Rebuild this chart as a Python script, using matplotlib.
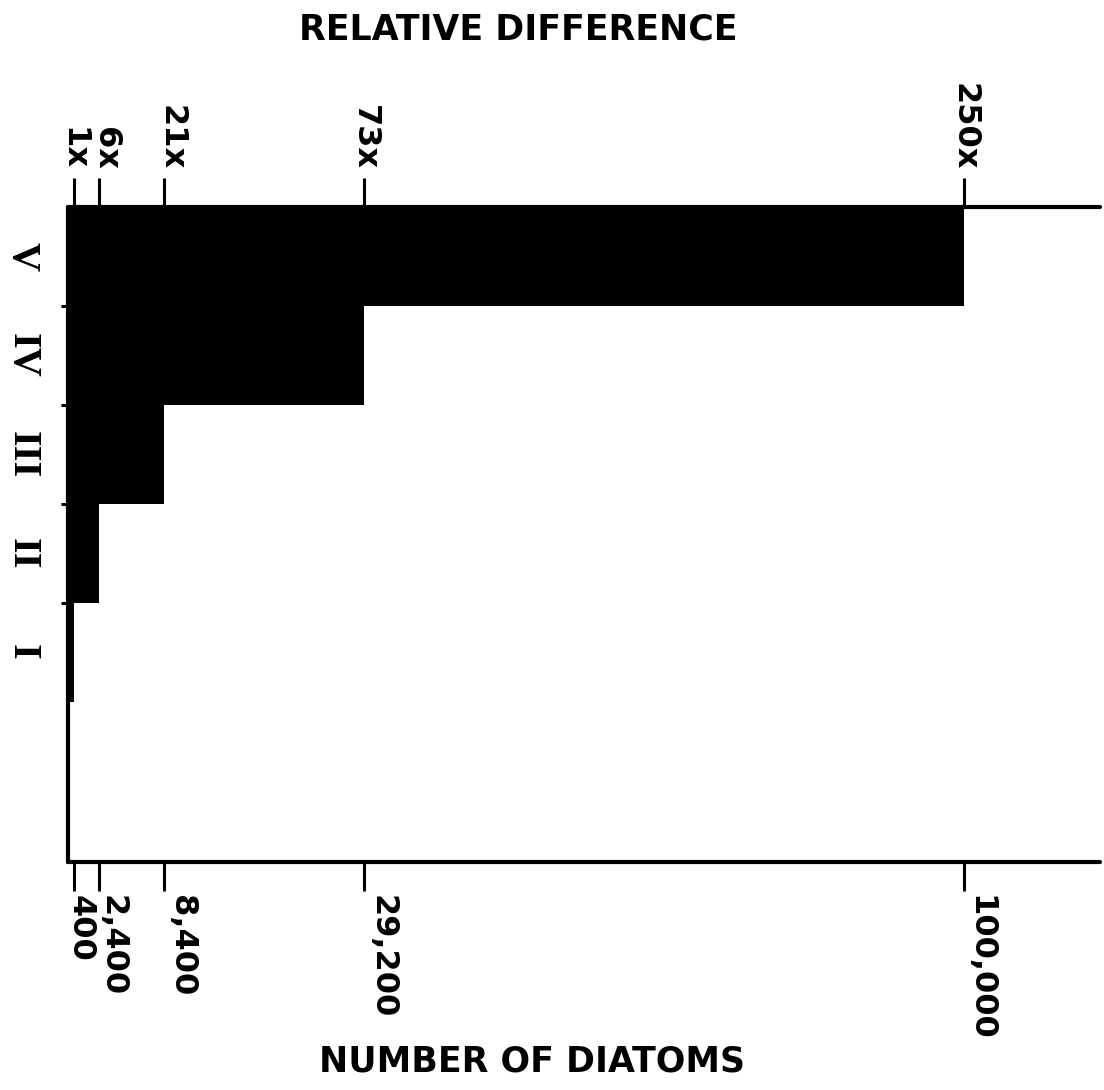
import numpy as np
import matplotlib
matplotlib.use("Agg")
import matplotlib.pyplot as plt

# Diatom counts per stage; the relative axis is each count over stage I
stages = ["I", "II", "III", "IV", "V"]
diatoms = [400, 2400, 8400, 29200, 100000]
base_count = diatoms[0]
relative = [d / base_count for d in diatoms]

count_labels = [f"{d:,}" for d in diatoms]
relative_labels = [f"{r:g}x" for r in relative]

# label nudges (pixels) so the crowded low-end labels don't collide
bottom_dx = [6, 13, 17, 18, 16]
top_dx = [-1, 6, 7, 0, 0]

label_font = "DejaVu Sans"
serif = "Liberation Serif"
line_w = 3.0
px = 0.72  # points per pixel at 100 dpi

fig = plt.figure(figsize=(11.04, 10.9), dpi=100)
W, H = 1104, 1090
ax = fig.add_axes([68 / W, 1 - 862 / H, (1100 - 68) / W, (862 - 207) / H])

# the drawn axis is slightly compressive, roughly a 0.9 power
power = 0.9
ax.set_xscale("function", functions=(lambda x: np.power(np.clip(x, 0, None), power),
                                     lambda y: np.power(np.clip(y, 0, None), 1 / power)))

ypos = np.arange(len(stages)) + 0.5
ax.barh(ypos, diatoms, height=1.0, color="black", linewidth=0)

ax.set_xlim(0, 117000)
ax.set_ylim(-1.62, 5)

for side in ["top", "bottom", "left"]:
    ax.spines[side].set_linewidth(line_w)
    ax.spines[side].set_capstyle("round")
ax.spines["right"].set_visible(False)

# same tick positions on both sides; labels written separately
ax.set_xticks(diatoms)
ax.xaxis.set_minor_locator(matplotlib.ticker.NullLocator())
ax.tick_params(axis="x", which="major", direction="out", length=21, width=2.2,
               top=True, bottom=True, labeltop=False, labelbottom=False)

for d, lab, dx in zip(diatoms, count_labels, bottom_dx):
    ax.annotate(lab, xy=(d, 0), xycoords=("data", "axes fraction"),
                xytext=(dx * px, -33 * px), textcoords="offset points",
                rotation=-90, ha="center", va="top",
                fontfamily=label_font, fontweight="bold", fontsize=23)

for d, lab, dx in zip(diatoms, relative_labels, top_dx):
    ax.annotate(lab, xy=(d, 1), xycoords=("data", "axes fraction"),
                xytext=(dx * px, 37 * px), textcoords="offset points",
                rotation=-90, ha="center", va="bottom",
                fontfamily=label_font, fontweight="bold", fontsize=23)

# stage labels centred on bars, small ticks at the bar boundaries
ax.set_yticks(np.arange(1, len(stages)))
ax.set_yticklabels([])
ax.tick_params(axis="y", which="major", direction="out", length=5, width=2.2)
ax.set_yticks(ypos, minor=True)
ax.set_yticklabels(stages, minor=True, rotation=-90, fontfamily=serif,
                   fontweight="bold", fontsize=29, va="center")
ax.tick_params(axis="y", which="minor", length=0, pad=20)

fig.text(518 / W, 1 - 30 / H, "RELATIVE DIFFERENCE", ha="center", va="center",
         fontfamily=label_font, fontweight="bold", fontsize=25)
fig.text(532 / W, 1 - 1062 / H, "NUMBER OF DIATOMS", ha="center", va="center",
         fontfamily=label_font, fontweight="bold", fontsize=25)

fig.savefig("out.png", dpi=100, facecolor="white")
